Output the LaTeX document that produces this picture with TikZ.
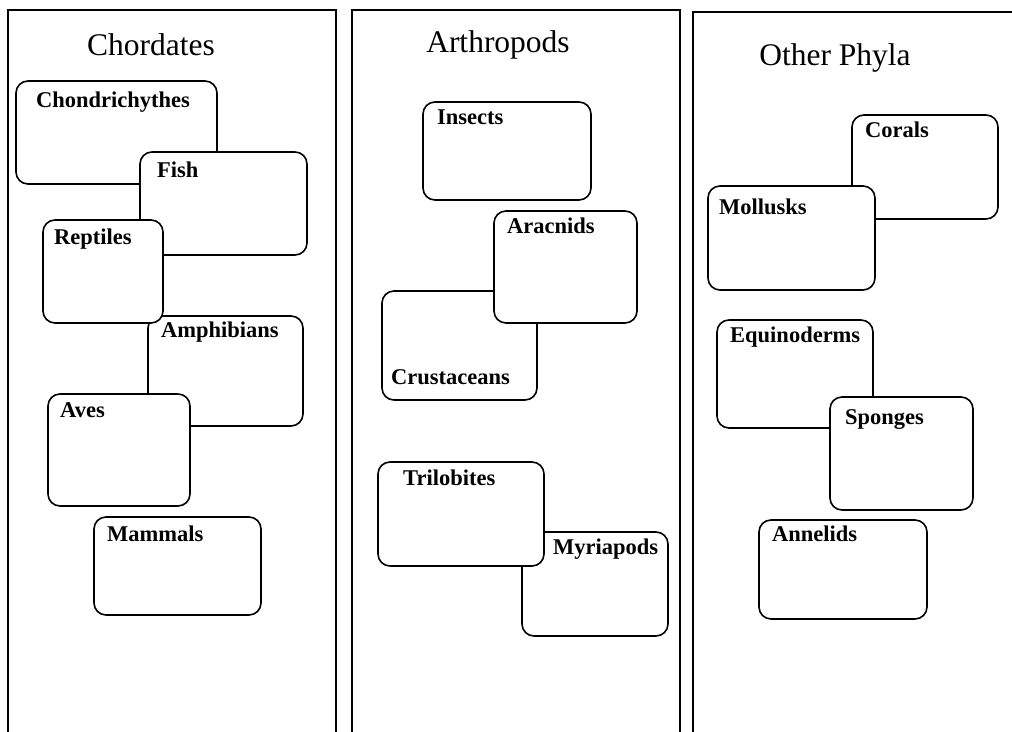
\documentclass[tikz,border=0pt]{standalone}
\usepackage{fontspec}
\setmainfont{Liberation Serif}
\begin{document}
\begin{tikzpicture}[x=1pt,y=-1pt,
  column/.style={draw, line width=1.8pt},
  card/.style={draw, line width=1.6pt, rounded corners=12pt, fill=white, rectangle, inner sep=0pt},
  lbl/.style={font=\fontsize{22.5}{25}\selectfont\bfseries, anchor=mid west, inner sep=0pt},
  ttl/.style={font=\fontsize{31.5}{35}\selectfont, anchor=base, inner sep=0pt}]
\clip (0,0) rectangle (1012,731);
\fill[white] (0,0) rectangle (1012,731);
% columns
\draw[column] (8,10) rectangle (336,760);
\draw[column] (352,10) rectangle (680,760);
\draw[column] (693,12) rectangle (1040,760);
% titles
\node[ttl] (tchord) at (151,55) {Chordates};
\node[ttl] (tarth) at (498,52) {Arthropods};
\node[ttl] (tother) at (835,65) {Other Phyla};
% Chordates
\node[card, minimum width=201pt, minimum height=103pt] (chond) at (116.5,132.5) {};
\node[lbl] (lchond) at (36,105) {Chondrichythes};
\node[card, minimum width=167pt, minimum height=103pt] (fish) at (223.5,203.5) {};
\node[lbl] (lfish) at (157,175) {Fish};
\node[card, minimum width=155pt, minimum height=110pt] (amph) at (225.5,371) {};
\node[lbl] (lamph) at (161,335) {Amphibians};
\node[card, minimum width=120pt, minimum height=103pt] (rept) at (103,271.5) {};
\node[lbl] (lrept) at (54,242) {Reptiles};
\node[card, minimum width=142pt, minimum height=112pt] (aves) at (119,450) {};
\node[lbl] (laves) at (60,415) {Aves};
\node[card, minimum width=167pt, minimum height=98pt] (mamm) at (177.5,566) {};
\node[lbl] (lmamm) at (107,539) {Mammals};
% Arthropods
\node[card, minimum width=168pt, minimum height=98pt] (ins) at (507,151) {};
\node[lbl] (lins) at (437,122) {Insects};
\node[card, minimum width=155pt, minimum height=109pt] (crus) at (459.5,345.5) {};
\node[lbl] (lcrus) at (391,382) {Crustaceans};
\node[card, minimum width=143pt, minimum height=112pt] (arac) at (565.5,267) {};
\node[lbl] (larac) at (507,231) {Aracnids};
\node[card, minimum width=146pt, minimum height=104pt] (myri) at (595,584) {};
\node[lbl] (lmyri) at (553,552) {Myriapods};
\node[card, minimum width=166pt, minimum height=104pt] (tril) at (461,514) {};
\node[lbl] (ltril) at (403,483) {Trilobites};
% Other Phyla
\node[card, minimum width=146pt, minimum height=104pt] (cora) at (925,167) {};
\node[lbl] (lcora) at (865,135) {Corals};
\node[card, minimum width=167pt, minimum height=104pt] (moll) at (791.5,238) {};
\node[lbl] (lmoll) at (719,212) {Mollusks};
\node[card, minimum width=156pt, minimum height=108pt] (equi) at (795,374) {};
\node[lbl] (lequi) at (730,340) {Equinoderms};
\node[card, minimum width=143pt, minimum height=113pt] (spon) at (901.5,453.5) {};
\node[lbl] (lspon) at (845,422) {Sponges};
\node[card, minimum width=168pt, minimum height=99pt] (anne) at (843,569.5) {};
\node[lbl] (lanne) at (772,539) {Annelids};
\end{tikzpicture}
\end{document}
